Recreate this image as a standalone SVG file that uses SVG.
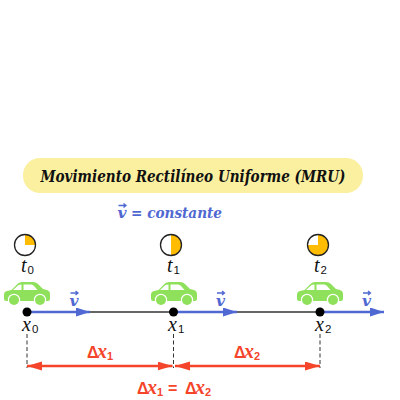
<svg xmlns="http://www.w3.org/2000/svg" width="400" height="400" viewBox="0 0 400 400">
<style>
.m{font-family:"DejaVu Serif","Liberation Serif",serif;font-style:italic;font-weight:700}
.t{font-family:"Liberation Serif",serif;font-style:italic;fill:#111;font-size:20px}
.s{font-family:"Liberation Sans",sans-serif;font-style:normal;font-size:11.5px;fill:#111}
.d{font-family:"Liberation Sans",sans-serif;font-weight:700;font-size:16px;fill:#f4442a}
.e{font-family:"Liberation Serif",serif;font-style:italic;font-weight:700;font-size:20px;fill:#f4442a}
.u{font-family:"Liberation Sans",sans-serif;font-weight:700;font-size:11px;fill:#f4442a}
.b{fill:#4f68d2}
.ring{fill:none;stroke:#222;stroke-width:1.3}
.pie{fill:#ffbc00}
.body{fill:#8fe05a}
.win{fill:#fff}
.va{fill:none;stroke:#4f68d2;stroke-width:1.3}
</style>
<defs>
<marker id="ab" markerWidth="14" markerHeight="10" refX="14" refY="4.500" orient="auto" markerUnits="userSpaceOnUse"><path d="M0 0L14 4.500L0 9z" fill="#4f68d2"/></marker>
<marker id="ar" markerWidth="15" markerHeight="10" refX="15" refY="4.500" orient="auto-start-reverse" markerUnits="userSpaceOnUse"><path d="M0 0L15 4.500L0 9z" fill="#f4442a"/></marker>
<g id="car"><path d="M0 13Q0 9.500 3 9L7.500 8L14 1.500Q15.500 0 18 0H29Q32 0 34 2L39 7L43 8Q46 9 46 12V16.500Q46 19 44 19H2Q0 19 0 16.500Z" class="body"/><path d="M9 8L14.500 3Q15.500 2.500 17.500 2.500V8ZM19.500 2.500H27Q29 2.500 30 4L33.500 8H19.500Z" class="win"/><circle cx="10" cy="18" r="6.200" fill="#fff"/><circle cx="10" cy="18" r="5" class="body"/><circle cx="36" cy="18" r="6.200" fill="#fff"/><circle cx="36" cy="18" r="5" class="body"/></g>
<g id="vec"><text x="0" y="0" class="m b" font-size="15.500">v</text><path d="M1 -12.500H8M6 -14.500L8.500 -12.500L6 -10.500" class="va"/></g>
</defs>
<g id="title"><rect x="23" y="158" width="340" height="35" rx="17" fill="#fbf0a0"/><text x="193" y="181.500" text-anchor="middle" class="m" font-size="16" textLength="305" lengthAdjust="spacingAndGlyphs" fill="#111">Movimiento Rectilíneo Uniforme (MRU)</text></g>
<g id="velocity-label"><use href="#vec" x="117.500" y="218"/><text x="131" y="218" class="m b" font-size="15" textLength="91" lengthAdjust="spacingAndGlyphs">= constante</text></g>
<g id="clock0"><circle cx="25" cy="245" r="10.500" fill="#fff"/><path d="M25 245V234.500A10.500 10.500 0 0 1 35.500 245Z" class="pie"/><circle cx="25" cy="245" r="10.500" class="ring"/><text x="21" y="272" class="t">t<tspan class="s" dx="1" dy="2">0</tspan></text></g>
<g id="clock1"><circle cx="171" cy="245" r="10.500" fill="#fff"/><path d="M171 234.500A10.500 10.500 0 0 1 171 255.500Z" class="pie"/><circle cx="171" cy="245" r="10.500" class="ring"/><text x="167" y="272" class="t">t<tspan class="s" dx="1" dy="2">1</tspan></text></g>
<g id="clock2"><circle cx="318" cy="245" r="10.500" class="pie"/><path d="M318 245H307.500A10.500 10.500 0 0 1 318 234.500Z" fill="#fff"/><circle cx="318" cy="245" r="10.500" class="ring"/><text x="314" y="272" class="t">t<tspan class="s" dx="1" dy="2">2</tspan></text></g>
<g id="car0"><use href="#car" x="4" y="282"/></g>
<g id="car1"><use href="#car" x="151" y="282"/></g>
<g id="car2"><use href="#car" x="297" y="282"/></g>
<g id="connectors" fill="none">
<path d="M27 312H320" stroke="#666" stroke-width="1.800"/>
<path d="M27 312H90" stroke="#4f68d2" stroke-width="2.500" marker-end="url(#ab)"/>
<path d="M173.500 312H237" stroke="#4f68d2" stroke-width="2.500" marker-end="url(#ab)"/>
<path d="M320 312H384" stroke="#4f68d2" stroke-width="2.500" marker-end="url(#ab)"/>
<path d="M27 334V368M173.500 334V368M320 334V368" stroke="#333" stroke-width="1" stroke-dasharray="4 2.500"/>
<path d="M27 366H172.500" stroke="#f4442a" stroke-width="2.500" marker-start="url(#ar)" marker-end="url(#ar)"/>
<path d="M175 366H320" stroke="#f4442a" stroke-width="2.500" marker-start="url(#ar)" marker-end="url(#ar)"/>
</g>
<g id="point0"><circle cx="27" cy="312" r="4.500" fill="#000"/><text x="22" y="331" class="t">x<tspan class="s" dx="1" dy="2">0</tspan></text></g>
<g id="point1"><circle cx="173.500" cy="312" r="4.500" fill="#000"/><text x="168" y="331" class="t">x<tspan class="s" dx="1" dy="2">1</tspan></text></g>
<g id="point2"><circle cx="320" cy="312" r="4.500" fill="#000"/><text x="315" y="331" class="t">x<tspan class="s" dx="1" dy="2">2</tspan></text></g>
<g id="v-labels"><use href="#vec" x="69.500" y="305.500"/><use href="#vec" x="216" y="305.500"/><use href="#vec" x="362" y="305.500"/></g>
<g id="delta-labels">
<text x="87" y="358" class="d">Δ</text><text x="97" y="358" class="e">x</text><text x="107" y="360" class="u">1</text>
<text x="234" y="358" class="d">Δ</text><text x="244" y="358" class="e">x</text><text x="254" y="360" class="u">2</text>
<text x="137" y="394" class="d">Δ</text><text x="147" y="394" class="e">x</text><text x="157" y="396" class="u">1</text>
<text x="168" y="394" class="d">=</text>
<text x="185" y="394" class="d">Δ</text><text x="195" y="394" class="e">x</text><text x="205" y="396" class="u">2</text>
</g>
</svg>
